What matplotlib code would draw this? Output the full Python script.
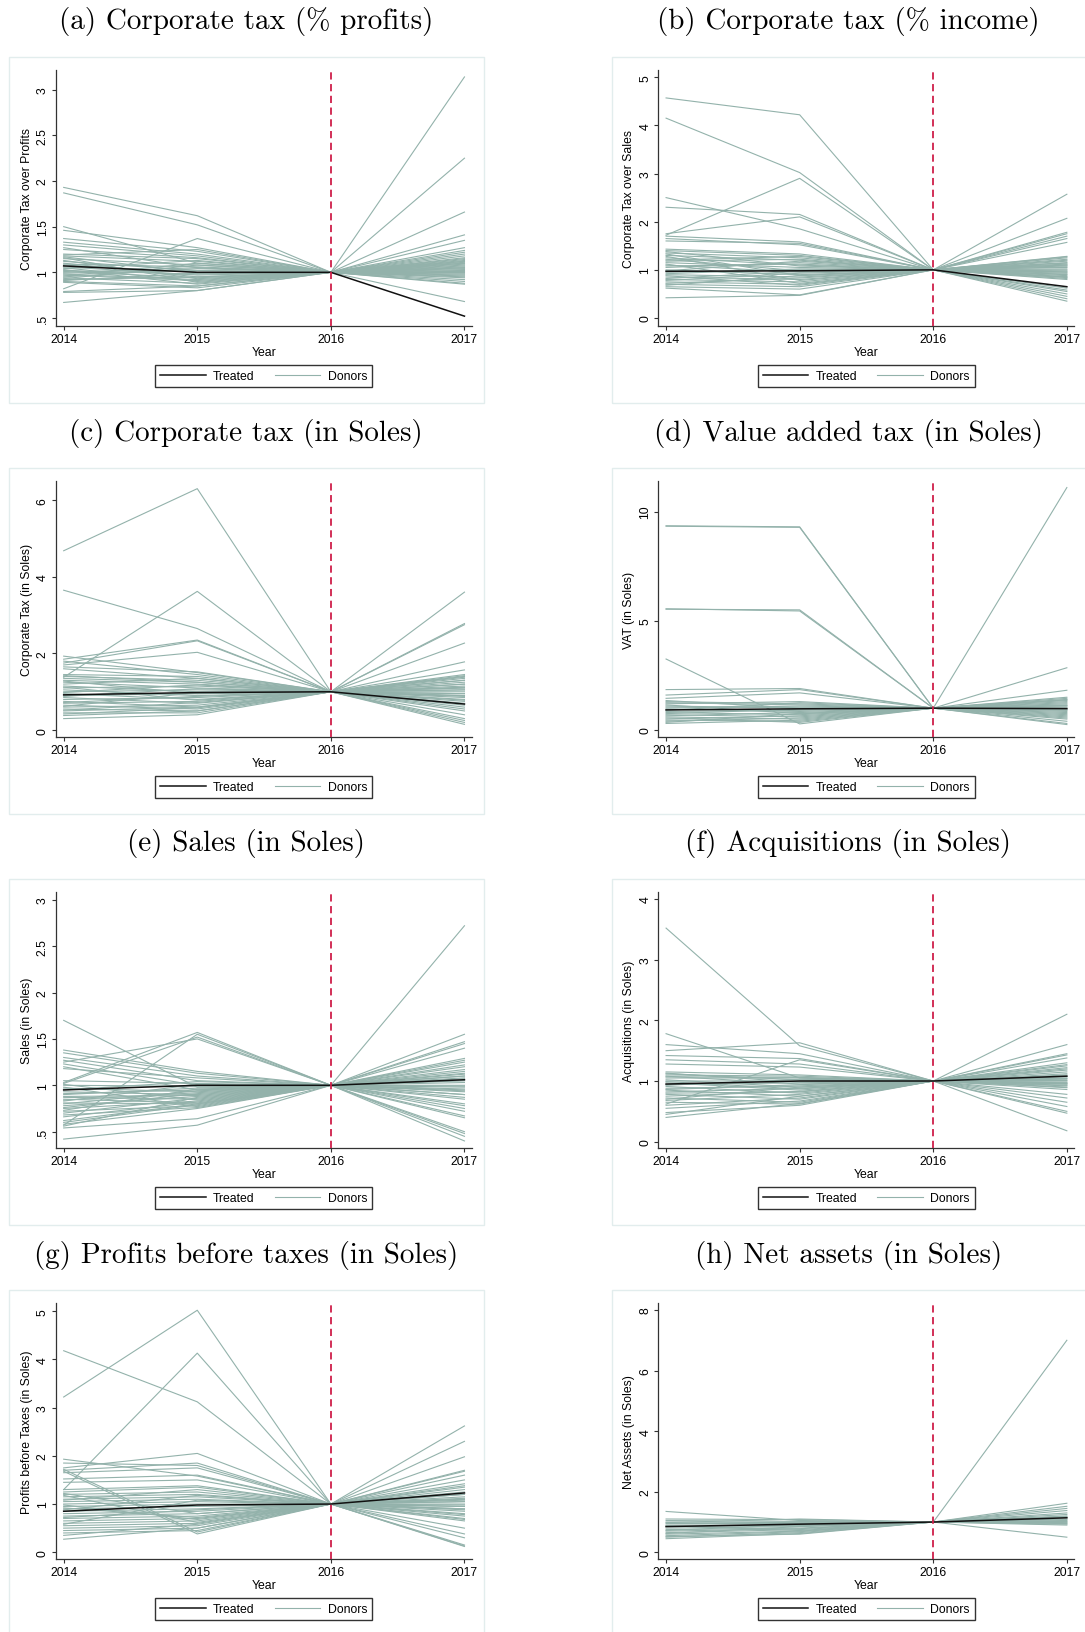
import matplotlib
matplotlib.use('Agg')
import matplotlib.pyplot as plt
from matplotlib.patches import Rectangle

years = [2014, 2015, 2016, 2017]
year_labels = ['2014', '2015', '2016', '2017']

titles = ['(a) Corporate tax (% profits)', '(b) Corporate tax (% income)',
          '(c) Corporate tax (in Soles)', '(d) Value added tax (in Soles)',
          '(e) Sales (in Soles)', '(f) Acquisitions (in Soles)',
          '(g) Profits before taxes (in Soles)', '(h) Net assets (in Soles)']
ylabels = ['Corporate Tax over Profits', 'Corporate Tax over Sales',
           'Corporate Tax (in Soles)', 'VAT (in Soles)',
           'Sales (in Soles)', 'Acquisitions (in Soles)',
           'Profits before Taxes (in Soles)', 'Net Assets (in Soles)']

# y ticks and their Stata-style labels
yticks = [[0.5, 1, 1.5, 2, 2.5, 3], [0, 1, 2, 3, 4, 5], [0, 2, 4, 6], [0, 5, 10],
          [0.5, 1, 1.5, 2, 2.5, 3], [0, 1, 2, 3, 4], [0, 1, 2, 3, 4, 5], [0, 2, 4, 6, 8]]
ytick_labels = [['.5', '1', '1.5', '2', '2.5', '3'], ['0', '1', '2', '3', '4', '5'],
                ['0', '2', '4', '6'], ['0', '5', '10'],
                ['.5', '1', '1.5', '2', '2.5', '3'], ['0', '1', '2', '3', '4'],
                ['0', '1', '2', '3', '4', '5'], ['0', '2', '4', '6', '8']]
ylims = [(0.412, 3.216), (-0.166, 5.15), (-0.18, 6.5), (-0.32, 11.4),
         (0.324, 3.084), (-0.104, 4.115), (-0.14, 5.17), (-0.22, 8.23)]

# treated unit (normalised to 1 in 2016)
treated = [[1.07, 1.00, 1.0, 0.52],
           [0.97, 0.98, 1.0, 0.65],
           [0.92, 0.98, 1.0, 0.68],
           [0.92, 0.97, 1.0, 0.98],
           [0.95, 1.00, 1.0, 1.06],
           [0.95, 1.00, 1.0, 1.08],
           [0.85, 0.98, 1.0, 1.23],
           [0.85, 0.93, 1.0, 1.14]]

# donors: values in 2014, 2015 and 2017 (2016 is 1 for all)
cit_profits_2014 = [1.93, 1.87, 1.50, 1.46, 1.37, 1.33, 1.30, 1.27, 1.25, 0.82, 0.67, 0.78, 0.79, 1.18,
                    1.15, 1.12, 1.10, 1.08, 1.05, 1.02, 1.00, 0.98, 0.96, 0.94, 0.92, 0.90, 1.17, 1.13,
                    1.09, 1.06, 1.03, 0.99, 0.97, 0.93, 0.91, 0.89, 1.20, 1.19, 1.04, 1.01, 0.95, 1.16]
cit_profits_2015 = [1.62, 1.52, 1.10, 1.27, 1.23, 1.20, 1.18, 1.05, 1.16, 1.37, 0.80, 0.80, 0.85, 1.12,
                    1.08, 1.02, 0.95, 1.00, 0.90, 0.98, 1.05, 0.92, 1.10, 0.88, 0.95, 0.85, 1.00, 0.93,
                    1.06, 0.97, 0.87, 1.02, 0.91, 1.08, 0.99, 0.83, 1.15, 1.25, 1.13, 0.94, 1.04, 0.89]
cit_profits_2017 = [1.05, 0.98, 1.22, 1.10, 1.02, 0.95, 1.08, 3.14, 0.90, 1.12, 1.00, 1.04, 0.68, 2.25,
                    1.66, 1.41, 1.35, 1.27, 1.24, 1.20, 1.18, 1.16, 1.14, 1.12, 1.10, 1.07, 1.05, 1.03,
                    1.01, 0.99, 0.97, 0.96, 0.94, 0.88, 0.87, 1.09, 1.13, 1.06, 0.92, 1.11, 1.15, 1.00]

cit_sales_2014 = [4.57, 4.15, 1.72, 2.50, 2.30, 1.75, 1.70, 1.65, 1.60, 0.42, 0.62, 1.40, 1.35, 1.30,
                  1.25, 1.20, 1.15, 1.10, 1.05, 1.00, 0.95, 0.90, 0.85, 0.80, 0.75, 0.70, 0.65, 1.38,
                  1.33, 1.28, 1.18, 1.12, 1.08, 0.98, 0.92, 0.88, 0.82, 0.78, 0.72, 1.43, 1.22, 0.68]
cit_sales_2015 = [4.22, 3.02, 2.90, 1.85, 2.15, 2.10, 1.58, 1.52, 1.55, 0.47, 0.48, 1.30, 1.25, 1.20,
                  1.10, 1.28, 1.05, 0.95, 1.15, 0.90, 1.00, 0.85, 0.80, 0.75, 0.70, 0.65, 0.60, 1.08,
                  0.88, 0.78, 1.22, 0.72, 1.12, 1.18, 1.02, 0.68, 0.97, 0.93, 0.83, 1.33, 0.98, 0.88]
cit_sales_2017 = [1.10, 0.95, 1.20, 1.05, 0.90, 1.15, 2.57, 2.07, 1.78, 1.75, 1.70, 1.65, 1.57, 1.28,
                  1.25, 1.22, 1.18, 1.12, 1.08, 1.02, 0.98, 0.93, 0.88, 0.85, 0.82, 0.80, 0.55, 0.50,
                  0.45, 0.40, 0.35, 1.27, 1.10, 1.00, 0.96, 0.91, 0.86, 1.14, 1.06, 0.84, 0.62, 0.58]

cit_soles_2014 = [4.68, 3.65, 1.38, 1.85, 1.75, 1.70, 1.93, 1.80, 1.60, 0.30, 0.38, 1.45, 1.40, 1.35,
                  1.30, 1.25, 1.20, 1.15, 1.10, 1.05, 1.00, 0.95, 0.90, 0.85, 0.80, 0.75, 0.70, 0.65,
                  0.60, 0.55, 0.50, 0.45, 1.42, 1.28, 1.12, 0.98, 0.88, 0.72, 0.62, 0.52, 1.65, 0.42]
cit_soles_2015 = [6.30, 2.65, 3.62, 2.35, 2.33, 2.03, 1.50, 1.45, 1.35, 0.40, 0.50, 1.40, 1.30, 1.25,
                  1.20, 1.10, 1.35, 1.00, 1.15, 0.90, 1.05, 0.80, 0.95, 0.70, 0.85, 0.60, 0.75, 0.55,
                  0.65, 0.50, 0.60, 0.45, 1.25, 0.95, 0.78, 1.18, 1.08, 0.88, 0.98, 0.72, 1.52, 0.58]
cit_soles_2017 = [1.10, 0.90, 1.20, 1.05, 0.95, 1.30, 3.60, 2.78, 2.75, 2.27, 1.78, 1.57, 1.45, 1.40,
                  1.35, 1.30, 1.25, 1.20, 1.15, 1.10, 1.05, 1.00, 0.95, 0.90, 0.85, 0.80, 0.75, 0.70,
                  0.60, 0.50, 0.40, 0.30, 0.25, 0.20, 0.15, 1.38, 1.12, 0.88, 0.65, 1.42, 0.78, 0.55]

vat_2014 = [9.35, 9.33, 5.55, 5.53, 3.25, 1.85, 1.60, 1.45, 1.30, 1.20, 1.10, 1.00, 0.95, 0.90, 0.85,
            0.80, 0.75, 0.70, 0.65, 0.60, 0.50, 0.45, 0.40, 0.30, 1.25, 1.15, 1.05, 0.55, 0.35, 1.35]
vat_2015 = [9.30, 9.28, 5.45, 5.50, 0.28, 1.90, 1.85, 1.70, 1.20, 1.30, 1.00, 1.10, 0.85, 1.25, 0.90,
            0.70, 0.95, 0.60, 0.80, 0.50, 0.65, 0.40, 0.55, 0.45, 1.15, 0.75, 1.05, 0.35, 0.75, 1.00]
vat_2017 = [1.10, 0.90, 1.20, 0.95, 11.10, 2.85, 1.82, 1.50, 1.45, 1.40, 1.35, 1.30, 1.25, 1.15, 1.05,
            1.00, 0.85, 0.80, 0.70, 0.60, 0.50, 0.40, 0.30, 0.25, 1.12, 0.92, 0.75, 0.65, 0.55, 1.38]

sales_2014 = [1.70, 1.38, 1.35, 1.30, 1.25, 1.03, 0.57, 1.02, 0.42, 0.54, 1.27, 1.23, 1.20, 1.18,
              1.05, 1.00, 0.97, 0.93, 0.90, 0.87, 0.84, 0.81, 0.78, 0.75, 0.72, 0.70, 0.68, 0.66,
              0.60, 0.58, 0.56, 0.95, 0.91, 0.88, 0.85, 0.80, 0.76, 1.01, 0.98, 0.73, 0.83, 0.62]
sales_2015 = [0.98, 1.15, 1.13, 1.10, 1.50, 1.57, 1.55, 1.52, 0.57, 0.64, 1.05, 1.00, 0.95, 1.08,
              1.02, 0.99, 0.93, 0.90, 0.97, 0.85, 0.92, 0.80, 0.88, 0.83, 0.78, 0.86, 0.76, 0.82,
              0.79, 0.75, 0.87, 1.04, 0.95, 0.89, 0.81, 0.94, 0.91, 0.84, 0.77, 0.96, 1.01, 0.80]
sales_2017 = [1.05, 0.95, 1.10, 0.90, 2.72, 1.55, 1.47, 1.45, 1.40, 1.29, 1.27, 1.25, 1.22, 1.20,
              1.17, 1.15, 1.12, 1.10, 1.08, 1.05, 1.03, 1.00, 0.98, 0.96, 0.93, 0.90, 0.87, 0.80,
              0.78, 0.75, 0.72, 0.67, 0.65, 0.50, 0.48, 0.45, 0.40, 1.13, 0.99, 0.94, 0.85, 1.07]

acq_2014 = [3.52, 1.78, 1.60, 1.50, 1.42, 1.35, 1.28, 0.62, 1.15, 1.12, 1.10, 1.08, 1.05, 1.02,
            1.00, 0.97, 0.94, 0.91, 0.88, 0.85, 0.82, 0.78, 0.75, 0.72, 0.68, 0.65, 0.60, 0.55,
            0.48, 0.45, 0.40, 1.13, 1.07, 0.99, 0.93, 0.86, 0.80, 0.70]
acq_2015 = [1.58, 1.05, 1.45, 1.63, 1.37, 1.28, 1.23, 1.35, 1.10, 1.02, 1.08, 0.95, 1.05, 0.90,
            1.00, 0.85, 0.97, 0.80, 0.92, 0.75, 0.88, 0.70, 0.83, 0.65, 0.78, 0.62, 0.72, 0.67,
            0.60, 0.75, 0.63, 0.98, 1.06, 0.87, 1.03, 0.94, 0.82, 0.90]
acq_2017 = [1.05, 0.95, 2.10, 1.60, 1.45, 1.43, 1.38, 1.30, 1.27, 1.25, 1.22, 1.18, 1.15, 1.12,
            1.10, 1.07, 1.04, 1.01, 0.98, 0.95, 0.92, 0.89, 0.86, 0.78, 0.72, 0.65, 0.58, 0.50,
            0.47, 0.18, 0.96, 1.00, 0.93, 1.20, 1.08, 0.90, 1.03, 0.97]

pbt_2014 = [3.22, 4.18, 1.30, 1.93, 1.85, 1.75, 1.70, 1.72, 1.68, 1.65, 1.52, 1.45, 1.30, 1.25,
            1.20, 1.15, 1.10, 1.05, 1.00, 0.95, 0.90, 0.85, 0.80, 0.75, 0.70, 0.65, 0.60, 0.55,
            0.50, 0.45, 0.40, 0.35, 0.27, 1.22, 1.08, 0.98, 0.88, 0.72, 0.58, 1.18, 0.92]
pbt_2015 = [5.02, 3.12, 4.13, 1.58, 1.80, 2.05, 1.85, 0.42, 0.38, 1.75, 1.60, 1.50, 1.38, 1.35,
            1.25, 1.20, 1.15, 1.10, 1.05, 1.00, 0.95, 0.90, 0.85, 0.80, 0.75, 0.70, 0.65, 0.60,
            0.55, 0.50, 0.45, 0.58, 0.50, 0.80, 1.30, 0.68, 1.18, 0.88, 1.08, 0.62, 0.72]
pbt_2017 = [1.10, 0.90, 1.20, 1.05, 0.95, 2.62, 2.30, 1.98, 1.70, 1.68, 1.60, 1.50, 1.42, 1.38,
            1.35, 1.30, 1.25, 1.20, 1.15, 1.10, 1.05, 1.00, 0.95, 0.90, 0.85, 0.80, 0.75, 0.70,
            0.65, 0.50, 0.38, 0.30, 0.15, 0.13, 0.12, 0.98, 0.78, 1.08, 0.68, 0.88, 1.12]

assets_2014 = [1.35, 1.10, 1.05, 1.00, 0.95, 0.90, 0.85, 0.80, 0.75, 0.70, 0.65, 0.60, 0.55, 0.50,
               0.45, 0.98, 0.88, 0.72, 0.62, 0.52]
assets_2015 = [1.05, 1.08, 1.02, 0.98, 0.95, 0.90, 0.88, 0.85, 0.80, 0.78, 0.75, 0.70, 0.68, 0.65,
               0.62, 1.10, 0.72, 0.92, 0.85, 0.60]
assets_2017 = [7.00, 1.62, 1.52, 1.45, 1.38, 1.30, 1.25, 1.20, 1.15, 1.10, 1.05, 1.00, 0.95, 0.90,
               0.50, 1.18, 1.08, 0.98, 1.02, 0.93]

donors = [(cit_profits_2014, cit_profits_2015, cit_profits_2017),
          (cit_sales_2014, cit_sales_2015, cit_sales_2017),
          (cit_soles_2014, cit_soles_2015, cit_soles_2017),
          (vat_2014, vat_2015, vat_2017),
          (sales_2014, sales_2015, sales_2017),
          (acq_2014, acq_2015, acq_2017),
          (pbt_2014, pbt_2015, pbt_2017),
          (assets_2014, assets_2015, assets_2017)]

W, H = 1085, 1633
DONOR_COLOR = '#93b2ab'
STATA_FONT = 'Liberation Sans'
FS = 8.8


def fx(x):
    return x / W


def fy(y):
    return 1 - y / H


def draw_panel(fig, i, left, top):
    # left/top = pixel position of the axes' upper-left corner
    ax_w, ax_h = 416, 256
    ax = fig.add_axes([fx(left), fy(top + ax_h), ax_w / W, ax_h / H])

    # light frame around the whole Stata graph region
    fig.add_artist(Rectangle((fx(left - 46.5), fy(top + ax_h + 77)), 475 / W, (ax_h + 90) / H,
                             transform=fig.transFigure, fill=False,
                             edgecolor='#e2eded', linewidth=1.0))
    # panel title
    fig.text(fx(left + 190), fy(top - 49), titles[i], ha='center', va='center',
             fontsize=21, family='cmr10')

    d14, d15, d17 = donors[i]
    for k in range(len(d14)):
        ax.plot(years, [d14[k], d15[k], 1.0, d17[k]], color=DONOR_COLOR, lw=0.8,
                label='Donors' if k == 0 else None, zorder=1)
    ax.plot(years, treated[i], color='#111111', lw=1.1, label='Treated', zorder=2)
    ax.axvline(2016, color='#cf1f4a', lw=1.3, ls=(0, (4, 2.5)), zorder=3)

    ax.set_xlim(2013.941, 2017.055)
    ax.set_ylim(*ylims[i])
    ax.set_xticks(years)
    ax.set_xticklabels(year_labels, family=STATA_FONT, fontsize=FS)
    ax.set_yticks(yticks[i])
    ax.set_yticklabels(ytick_labels[i], family=STATA_FONT, fontsize=FS, rotation=90, va='center')
    ax.set_xlabel('Year', family=STATA_FONT, fontsize=FS, labelpad=1)
    ax.set_ylabel(ylabels[i], family=STATA_FONT, fontsize=FS, labelpad=3)
    for s in ['top', 'right']:
        ax.spines[s].set_visible(False)
    for s in ['left', 'bottom']:
        ax.spines[s].set_color('#333333')
        ax.spines[s].set_linewidth(0.9)
    ax.tick_params(direction='out', length=3, width=0.8, color='#333333', pad=2)

    handles, labels = ax.get_legend_handles_labels()
    leg = ax.legend(handles[::-1], labels[::-1], loc='upper center', bbox_to_anchor=(0.5, -39 / ax_h),
                    ncol=2, frameon=True, fancybox=False, borderaxespad=0, handlelength=3.7,
                    handletextpad=0.62, columnspacing=1.64, borderpad=0.42,
                    prop={'family': STATA_FONT, 'size': FS})
    leg.get_frame().set_edgecolor('black')
    leg.get_frame().set_linewidth(1.0)
    return ax


def main():
    fig = plt.figure(figsize=(W / 100, H / 100), dpi=100)
    lefts = [55.8, 658.2]
    tops = [71, 482, 893, 1304]
    for i in range(8):
        draw_panel(fig, i, lefts[i % 2], tops[i // 2])
    fig.savefig('out.png', dpi=100)


if __name__ == '__main__':
    main()
